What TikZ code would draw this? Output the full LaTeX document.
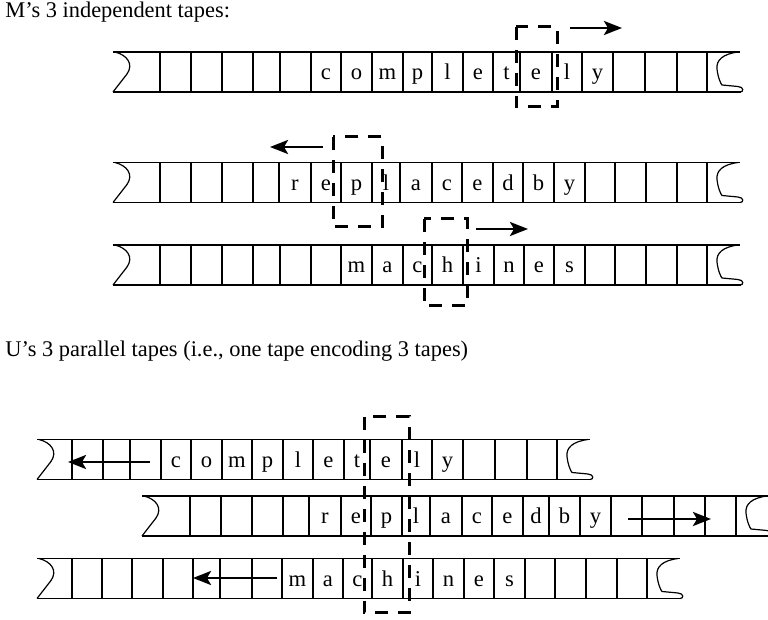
\documentclass[tikz,border=0pt]{standalone}
\usepackage{fontspec}
\setmainfont{Liberation Serif}
\usetikzlibrary{arrows.meta}
\tikzset{
  tapeline/.style={line width=0.6pt},
  headbox/.style={line width=1.5pt, dash pattern=on 6.5pt off 5pt},
  movearrow/.style={line width=1.4pt, -{Stealth[length=9pt,width=7pt,inset=2pt]}},
  symbol/.style={anchor=base, inner sep=0pt, font=\fontsize{11.3}{13}\selectfont},
  caption/.style={anchor=base west, inner sep=0pt, font=\fontsize{11.2}{13}\selectfont}
}
% #1 top edge, #2 left broken end, #3 last cell wall, #4 cell walls,
% #5 symbols as x/char, #6 name prefix for the symbol nodes
\newcommand\drawtape[6]{%
  \draw[tapeline] (#2,#1) -- (#3+33,#1);
  \draw[tapeline] (#2,#1+40) -- (#3+34,#1+40);
  \draw[tapeline] (#2+2,#1) .. controls (#2+14,#1+3) and (#2+21,#1+12) .. (#2+14,#1+22) -- (#2,#1+40);
  \draw[tapeline] (#3+31,#1) .. controls (#3+16,#1+2) and (#3+9,#1+8) .. (#3+10,#1+17)
     .. controls (#3+11,#1+26) and (#3+14,#1+32) .. (#3+15,#1+33) -- (#3+31,#1+34.5)
     .. controls (#3+37,#1+35) and (#3+37,#1+40) .. (#3+33,#1+40);
  \foreach \vx in {#4} \draw[tapeline] (\vx,#1) -- (\vx,#1+40);
  \foreach \lx/\ch [count=\k] in {#5} \node[symbol] (#6-\k) at (\lx,#1+28) {\ch};
}
\begin{document}
\begin{tikzpicture}[x=0.5pt,y=-0.5pt]
\useasboundingbox (0,0) rectangle (768,620);
\clip (0,0) rectangle (768,620);

% ---- the three independent tapes of M ----
\node[caption] (mlabel) at (5,18) {M’s 3 independent tapes:};

\drawtape{52}{113}{707}
  {160,191,222,253,280,311,341,372,403,432,463,493,520,552,582,613,645,677,707}
  {326/c,356.5/o,387.5/m,417.5/p,447.5/l,478/e,506.5/t,536/e,567/l,597.5/y}{ma}
\drawtape{162.5}{113}{707}
  {160,191,222,253,279,311,341,372,400,432,462,493,523,554,585,615,646,677,707}
  {295/r,326/e,356.5/p,386/l,416/a,447/c,477.5/e,508/d,538.5/b,569.5/y}{mb}
\drawtape{245}{113}{707}
  {160,191,222,253,280,311,341,372,403,432,463,494,524,554,585,615,646,677,707}
  {356.5/m,387.5/a,417.5/c,447.5/h,478.5/i,509/n,539/e,569.5/s}{mc}

\draw[headbox] (516,27) rectangle (557,107);
\draw[headbox] (333,137) rectangle (382,227);
\draw[headbox] (424,219) rectangle (467,306);

\coordinate (mas) at (570,28);  \coordinate (mae) at (622,28);
\coordinate (mbs) at (323,147); \coordinate (mbe) at (270,147);
\coordinate (mcs) at (476,229); \coordinate (mce) at (528,229);
\draw[movearrow] (mas) -- (mae);
\draw[movearrow] (mbs) -- (mbe);
\draw[movearrow] (mcs) -- (mce);

% ---- one tape of U carrying the three tracks ----
\node[caption] (ulabel) at (5,357) {U’s 3 parallel tapes (i.e., one tape encoding 3 tapes)};

\drawtape{439.5}{37}{557}
  {72,103,130,161,191,222,252,283,313,344,370,402,432,463,495,527,557}
  {176/c,206.5/o,237/m,267.5/p,298/l,328.5/e,357/t,386/e,417/l,447.5/y}{ua}
\drawtape{496}{142}{736}
  {190,221,252,283,309,341,371,402,430,462,492,523,549,580,611,642,674,705,736}
  {325/r,356/e,386.5/p,416/l,446/a,477/c,507.5/e,536/d,564.5/b,595.5/y}{ub}
\drawtape{558.5}{37}{647}
  {72,102,132,163,193,220,252,282,313,343,372,403,433,464,494,525,555,586,617,647}
  {297.5/m,328/a,357.5/c,387.5/h,418/i,448.5/n,479/e,509.5/s}{uc}

\draw[headbox] (364,417) rectangle (409,613);

\coordinate (uas) at (150,462); \coordinate (uae) at (68,462);
\coordinate (ubs) at (628,519); \coordinate (ube) at (711,519);
\coordinate (ucs) at (277,578); \coordinate (uce) at (193,578);
\draw[movearrow] (uas) -- (uae);
\draw[movearrow] (ubs) -- (ube);
\draw[movearrow] (ucs) -- (uce);
\end{tikzpicture}
\end{document}
